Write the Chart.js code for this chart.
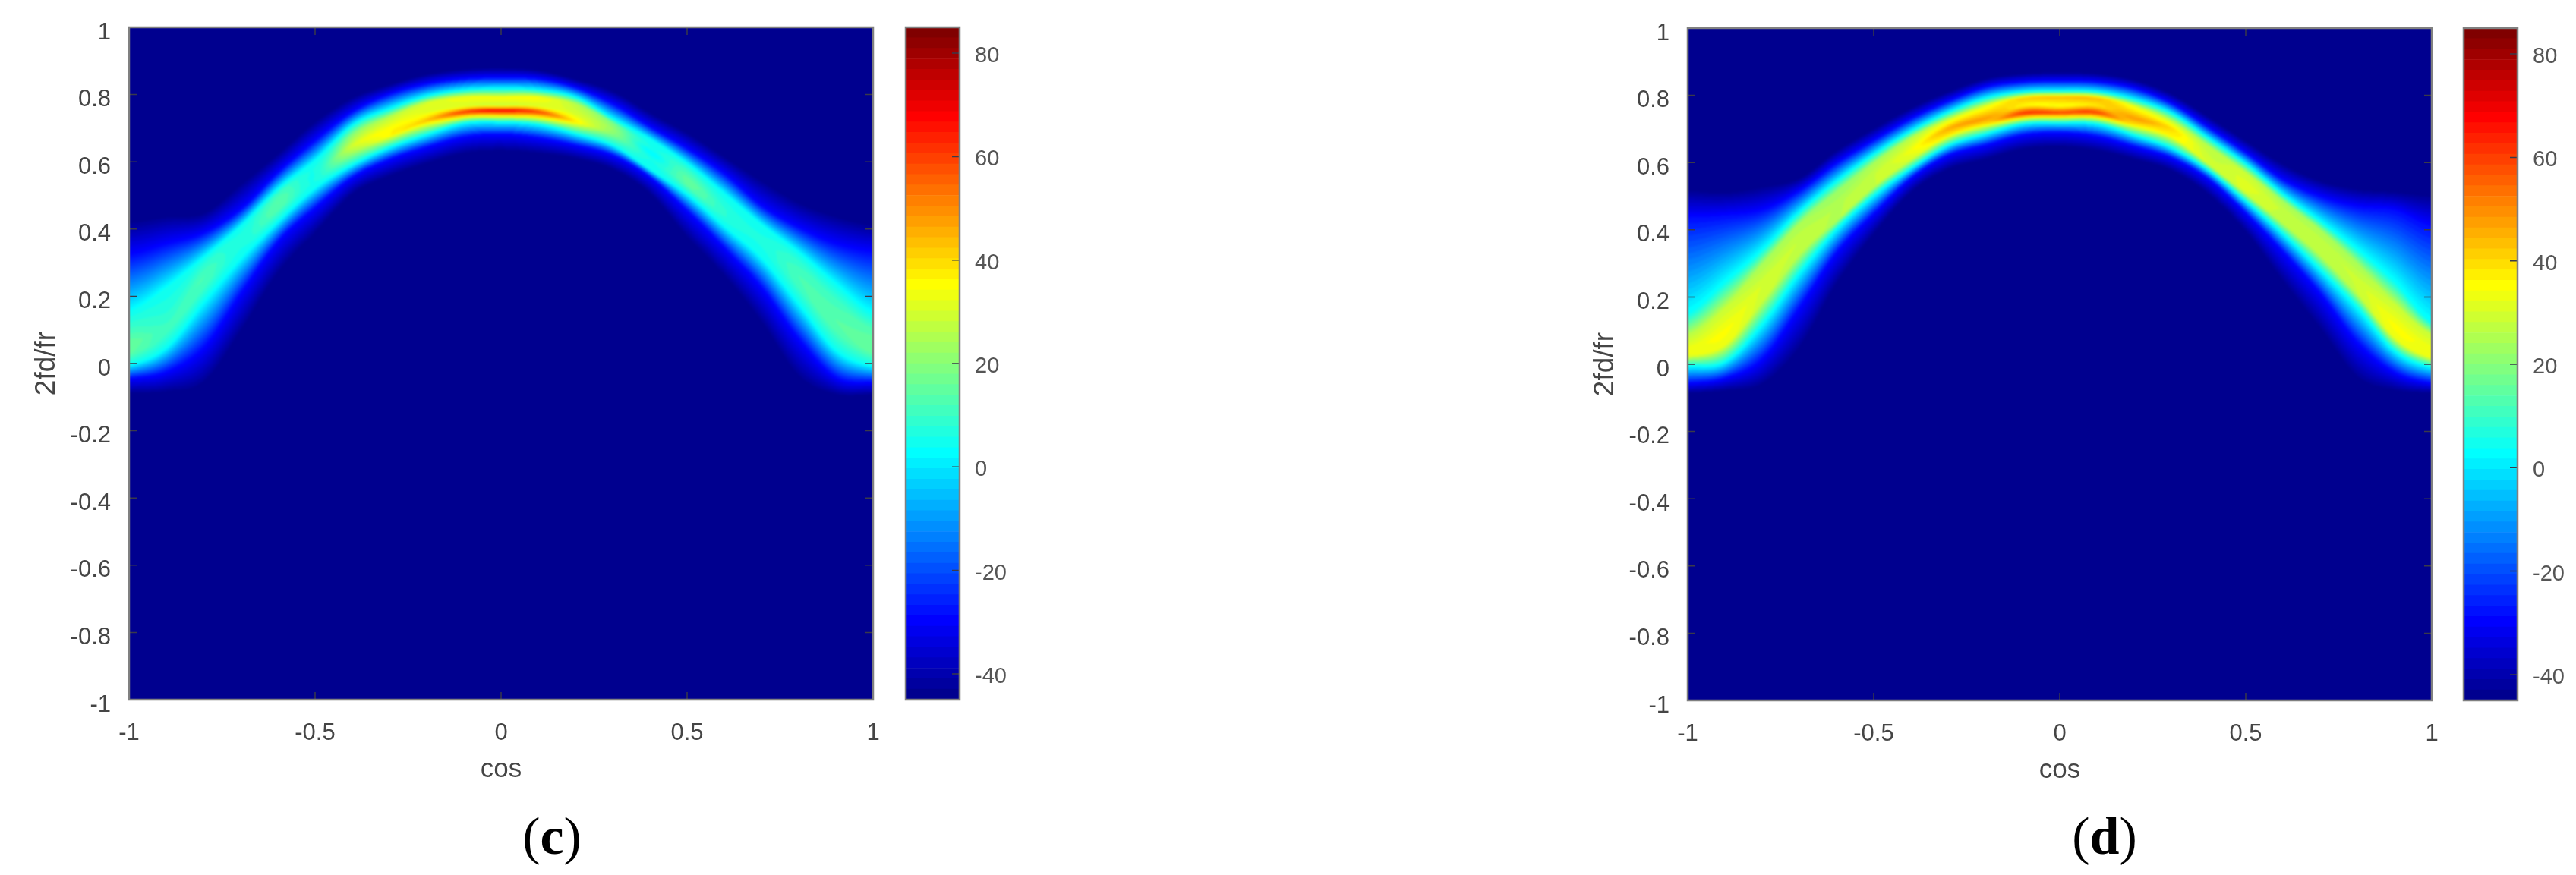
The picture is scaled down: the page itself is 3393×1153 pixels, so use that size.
<!DOCTYPE html>
<html>
<head>
<meta charset="utf-8">
<title>Chart</title>
<script src="https://cdn.jsdelivr.net/npm/chart.js@4"></script>
<style>
  body { margin: 0; background: #fff; width: 3393px; height: 1153px; overflow: hidden; position: relative; }
  canvas { position: absolute; }
  .caption { position: absolute; width: 200px; text-align: center; top: 1064px; font: 70px/76px "Liberation Serif", serif; color: #000; }
</style>
</head>
<body>
<canvas id="heatC" width="1200" height="1060" style="left:0;top:0"></canvas>
<canvas id="barC" width="190" height="982" style="left:1183px;top:0"></canvas>
<canvas id="heatD" width="1200" height="1060" style="left:2053px;top:1px"></canvas>
<canvas id="barD" width="190" height="982" style="left:3235px;top:1px"></canvas>
<div class="caption" style="left:627px">(<b>c</b>)</div>
<div class="caption" style="left:2672px">(<b>d</b>)</div>
<script>
// tick labels
const xTicks = [-1, -0.5, 0, 0.5, 1];
const yTicks = [-1, -0.8, -0.6, -0.4, -0.2, 0, 0.2, 0.4, 0.6, 0.8, 1];
const barTicks = [-40, -20, 0, 20, 40, 60, 80];

// columns of the two maps (cos value)
const cosGrid = [-1, -0.9, -0.8, -0.7, -0.6, -0.5, -0.4, -0.3, -0.2, -0.1, 0, 0.1, 0.2, 0.3, 0.4, 0.5, 0.6, 0.7, 0.8, 0.9, 1];

// colour levels: fixed dB values and where the ridge crosses them in each column
const levelDark = -45, levelBlue = -29, levelCyan = 4;

// panel (c): 2fd/fr position of each level
const cTopDark = [.43, .445, .453, .54, .63, .725, .795, .833, .863, .878, .882, .875, .848, .814, .75, .69, .62, .55, .485, .445, .42];
const cTopBlue = [.324, .356, .389, .46, .57, .665, .75, .803, .833, .848, .852, .848, .822, .773, .705, .64, .565, .47, .405, .356, .332];
const cTopCyan = [.155, .227, .316, .41, .52, .605, .709, .758, .796, .814, .818, .814, .792, .728, .668, .595, .505, .413, .33, .235, .147];
const cBandY = [.09, .15, .29, .39, .505, .585, .683, .735, .777, .792, .792, .792, .773, .717, .645, .575, .485, .395, .30, .185, .10];
const cBandV = [12, 8, 9, 6, 11, 6, 20, 26, 30, 34, 35, 35, 26, 18, 6, 10, 6, 5, 9, 11, 13];
const cNeckY = [.06, .12, .26, .365, .48, .565, .649, .698, .747, .766, .769, .766, .743, .698, .63, .55, .46, .38, .26, .13, .05];
const cNeckV = [16, 10, 12, 6, 14, 6, 30, 36, 32, 30, 28, 30, 30, 22, 2, 15, 8, 6, 12, 14, 16];
const cRidgeY = [.03, .09, .23, .345, .46, .545, .63, .679, .724, .749, .754, .749, .72, .683, .611, .53, .44, .35, .23, .10, .03];
const cRidgeV = [14, 10, 11, 6, 13, 6, 24, 36, 44, 62, 68, 60, 38, 20, 6, 14, 8, 6, 11, 13, 14];
const cLowCyan = [-.002, .05, .187, .316, .425, .525, .593, .645, .683, .717, .72, .713, .685, .65, .578, .505, .41, .316, .18, .042, -.006];
const cLowBlue = [-.043, -.023, .05, .211, .365, .465, .555, .608, .645, .675, .683, .672, .65, .62, .555, .455, .345, .227, .074, -.04, -.055];
const cLowDark = [-.091, -.087, -.063, .09, .265, .385, .502, .555, .593, .623, .63, .623, .608, .575, .502, .37, .255, .115, -.047, -.095, -.095];

// panel (d)
const dTopDark = [.525, .518, .534, .558, .64, .705, .766, .814, .852, .867, .871, .867, .848, .807, .739, .668, .60, .55, .526, .518, .51];
const dTopBlue = [.44, .445, .46, .518, .60, .668, .732, .784, .826, .841, .844, .841, .822, .777, .705, .63, .55, .50, .47, .46, .413];
const dTopCyan = [.15, .243, .34, .453, .545, .625, .694, .75, .792, .811, .814, .811, .788, .747, .672, .596, .505, .425, .34, .243, .123];
const dBandY = [.09, .17, .30, .42, .515, .60, .675, .728, .769, .792, .796, .792, .769, .724, .649, .57, .485, .40, .30, .18, .09];
const dBandV = [26, 28, 24, 24, 22, 24, 26, 30, 32, 42, 44, 44, 32, 28, 26, 28, 24, 24, 24, 28, 28];
const dNeckY = [.05, .10, .24, .37, .47, .565, .638, .702, .732, .769, .769, .769, .732, .702, .626, .54, .455, .36, .252, .115, .05];
const dNeckV = [33, 35, 30, 28, 26, 28, 34, 46, 48, 36, 34, 38, 48, 40, 28, 31, 28, 28, 29, 35, 33];
const dRidgeY = [.025, .06, .19, .33, .43, .53, .611, .683, .717, .747, .749, .749, .713, .679, .596, .51, .42, .325, .21, .08, .02];
const dRidgeV = [32, 33, 29, 27, 26, 28, 30, 38, 40, 62, 60, 60, 38, 36, 30, 30, 27, 27, 28, 33, 33];
const dLowCyan = [-.003, .01, .123, .276, .405, .505, .585, .653, .687, .717, .72, .717, .683, .645, .578, .487, .39, .284, .171, .042, -.006];
const dLowBlue = [-.055, -.04, .018, .171, .335, .45, .555, .623, .653, .683, .69, .679, .649, .615, .551, .45, .335, .211, .066, -.023, -.055];
const dLowDark = [-.087, -.08, -.063, .042, .235, .385, .51, .578, .608, .638, .645, .634, .608, .574, .502, .39, .24, .098, -.047, -.08, -.087];

// edges of the 64 colorbar steps
const barEdges = [-45, -42.97, -40.94, -38.91, -36.88, -34.84, -32.81, -30.78, -28.75, -26.72, -24.69, -22.66, -20.63, -18.59, -16.56, -14.53, -12.5, -10.47, -8.44, -6.41, -4.38, -2.34, -0.31, 1.72, 3.75, 5.78, 7.81, 9.84, 11.88, 13.91, 15.94, 17.97, 20, 22.03, 24.06, 26.09, 28.13, 30.16, 32.19, 34.22, 36.25, 38.28, 40.31, 42.34, 44.38, 46.41, 48.44, 50.47, 52.5, 54.53, 56.56, 58.59, 60.63, 62.66, 64.69, 66.72, 68.75, 70.78, 72.81, 74.84, 76.88, 78.91, 80.94, 82.97, 85];

const fontFamily = '"Liberation Sans", Arial, sans-serif';
const textColor = '#454545';

// matlab jet(64)
function jet(n) {
  const t = 4 * n / 64;
  const ch = c => Math.round(255 * Math.max(0, Math.min(1, 1.5 - Math.abs(t - c))));
  return [ch(3), ch(2), ch(1)];
}
const jetTable = [];
for (let n = 0; n <= 64; n++) jetTable.push(jet(n));

function levelOf(v) {
  return Math.max(1, Math.min(64, Math.ceil((v + 45) / 130 * 64)));
}

// Catmull-Rom between two neighbour columns
function smooth(a, i, t) {
  const n = a.length;
  const p0 = a[Math.max(i - 1, 0)], p1 = a[i], p2 = a[Math.min(i + 1, n - 1)], p3 = a[Math.min(i + 2, n - 1)];
  return 0.5 * (2 * p1 + (p2 - p0) * t + (2 * p0 - 5 * p1 + 4 * p2 - p3) * t * t + (3 * p1 - p0 - 3 * p2 + p3) * t * t * t);
}

// paints the map from the datasets, going through the chart's scales for every pixel
const heatField = {
  id: 'heatField',
  beforeDatasetsDraw(chart) {
    const a = chart.chartArea, sx = chart.scales.x, sy = chart.scales.y, ctx = chart.ctx;
    const m = 6;
    const w = Math.round(a.right - a.left) + 2 * m, h = Math.round(a.bottom - a.top) + 2 * m;
    const off = document.createElement('canvas');
    off.width = w; off.height = h;
    const octx = off.getContext('2d');
    const img = octx.createImageData(w, h);
    const ySets = chart.data.datasets.map(d => d.data.map(p => p.y));
    const vSets = chart.data.datasets.map(d => d.data.map(p => p.v));
    const rowValues = [];
    for (let r = 0; r < h; r++) rowValues.push(sy.getValueForPixel(a.top - m + r));
    const k = ySets.length;

    for (let c = 0; c < w; c++) {
      const cos = Math.max(-1, Math.min(1, sx.getValueForPixel(a.left - m + c)));
      let i = 0;
      while (i < cosGrid.length - 2 && cos > cosGrid[i + 1]) i++;
      const t = (cos - cosGrid[i]) / (cosGrid[i + 1] - cosGrid[i]);
      const ys = ySets.map(s => smooth(s, i, t));
      const vs = vSets.map(s => smooth(s, i, t));
      for (let r = 0; r < h; r++) {
        const y = rowValues[r];
        let v = levelDark;
        if (y < ys[0] && y > ys[k - 1]) {
          let j = 0;
          while (j < k - 2 && y < ys[j + 1]) j++;
          const f = (ys[j] - y) / (ys[j] - ys[j + 1]);
          v = vs[j] + (vs[j + 1] - vs[j]) * f;
        }
        const col = jetTable[levelOf(v)];
        const o = 4 * (r * w + c);
        img.data[o] = col[0]; img.data[o + 1] = col[1]; img.data[o + 2] = col[2]; img.data[o + 3] = 255;
      }
    }
    octx.putImageData(img, 0, 0);

    ctx.save();
    ctx.beginPath();
    ctx.rect(a.left, a.top, a.right - a.left, a.bottom - a.top);
    ctx.clip();
    ctx.filter = 'blur(1.6px)';
    ctx.drawImage(off, a.left - m, a.top - m);
    ctx.restore();
  }
};

// box and inward ticks, matlab style
const boxFrame = {
  id: 'boxFrame',
  afterDatasetsDraw(chart) {
    const a = chart.chartArea, ctx = chart.ctx;
    const len = 10;
    ctx.save();
    ctx.strokeStyle = '#3a3a4a';
    ctx.lineWidth = 1.5;
    ctx.beginPath();
    chart.scales.y.ticks.forEach(tk => {
      const p = chart.scales.y.getPixelForValue(tk.value);
      ctx.moveTo(a.right, p); ctx.lineTo(a.right - len, p);
      if (chart.canvas.id.indexOf('heat') === 0) { ctx.moveTo(a.left, p); ctx.lineTo(a.left + len, p); }
    });
    if (chart.scales.x.options.display) {
      chart.scales.x.ticks.forEach(tk => {
        const p = chart.scales.x.getPixelForValue(tk.value);
        ctx.moveTo(p, a.top); ctx.lineTo(p, a.top + len);
        ctx.moveTo(p, a.bottom); ctx.lineTo(p, a.bottom - len);
      });
    }
    ctx.stroke();
    ctx.strokeStyle = '#808080';
    ctx.lineWidth = 2.5;
    ctx.strokeRect(a.left, a.top, a.right - a.left, a.bottom - a.top);
    ctx.restore();
  }
};

function nodeSet(label, xs, ys, vs) {
  return {
    label: label,
    data: xs.map((x, i) => ({ x: x, y: ys[i], v: Array.isArray(vs) ? vs[i] : vs })),
    pointRadius: 0,
    showLine: false
  };
}

function makeHeat(id, topDark, topBlue, topCyan, bandY, bandV, neckY, neckV, ridgeY, ridgeV, lowCyan, lowBlue, lowDark) {
  new Chart(document.getElementById(id), {
    type: 'scatter',
    data: {
      datasets: [
        nodeSet('topDark', cosGrid, topDark, levelDark),
        nodeSet('topBlue', cosGrid, topBlue, levelBlue),
        nodeSet('topCyan', cosGrid, topCyan, levelCyan),
        nodeSet('band', cosGrid, bandY, bandV),
        nodeSet('neck', cosGrid, neckY, neckV),
        nodeSet('ridge', cosGrid, ridgeY, ridgeV),
        nodeSet('lowCyan', cosGrid, lowCyan, levelCyan),
        nodeSet('lowBlue', cosGrid, lowBlue, levelBlue),
        nodeSet('lowDark', cosGrid, lowDark, levelDark)
      ]
    },
    options: {
      responsive: false,
      animation: false,
      layout: { padding: { top: 36, right: 50, left: 0, bottom: 0 } },
      plugins: { legend: { display: false }, tooltip: { enabled: false } },
      scales: {
        x: {
          type: 'linear', min: -1, max: 1,
          grid: { display: false }, border: { display: false },
          afterBuildTicks: s => { s.ticks = xTicks.map(v => ({ value: v })); },
          afterFit: s => { s.height = 138; },
          ticks: { color: textColor, font: { size: 31 }, padding: 18, maxRotation: 0, callback: v => String(v) },
          title: { display: true, text: 'cos', color: textColor, font: { size: 35 }, padding: { top: 0, bottom: 25 } }
        },
        y: {
          type: 'linear', min: -1, max: 1,
          grid: { display: false }, border: { display: false },
          afterBuildTicks: s => { s.ticks = yTicks.map(v => ({ value: v })); },
          afterFit: s => { s.width = 170; },
          ticks: { color: textColor, font: { size: 31 }, padding: 16, labelOffset: 7, callback: v => String(v) },
          title: { display: true, text: '2fd/fr', color: textColor, font: { size: 37 }, padding: { top: 40, bottom: 0 } }
        }
      }
    },
    plugins: [heatField, boxFrame]
  });
}

function makeBar(id) {
  const sets = [];
  for (let i = 0; i < barEdges.length - 1; i++) {
    const c = jetTable[i + 1];
    sets.push({
      data: [[barEdges[i], barEdges[i + 1]]],
      backgroundColor: 'rgb(' + c.join(',') + ')',
      borderWidth: 0,
      barPercentage: 1,
      categoryPercentage: 1,
      grouped: false
    });
  }
  new Chart(document.getElementById(id), {
    type: 'bar',
    data: { labels: ['dB'], datasets: sets },
    options: {
      responsive: false,
      animation: false,
      layout: { padding: { top: 36, left: 10, right: 0, bottom: 60 } },
      plugins: { legend: { display: false }, tooltip: { enabled: false } },
      scales: {
        x: { display: false },
        y: {
          type: 'linear', position: 'right', min: -45, max: 85,
          grid: { display: false }, border: { display: false },
          afterBuildTicks: s => { s.ticks = barTicks.map(v => ({ value: v })); },
          afterFit: s => { s.width = 109; },
          ticks: { color: '#555', font: { size: 29 }, padding: 12, labelOffset: 4, callback: v => String(v) }
        }
      }
    },
    plugins: [boxFrame]
  });
}

Chart.defaults.font.family = fontFamily;
makeHeat('heatC', cTopDark, cTopBlue, cTopCyan, cBandY, cBandV, cNeckY, cNeckV, cRidgeY, cRidgeV, cLowCyan, cLowBlue, cLowDark);
makeBar('barC');
makeHeat('heatD', dTopDark, dTopBlue, dTopCyan, dBandY, dBandV, dNeckY, dNeckV, dRidgeY, dRidgeV, dLowCyan, dLowBlue, dLowDark);
makeBar('barD');
</script>
</body>
</html>
